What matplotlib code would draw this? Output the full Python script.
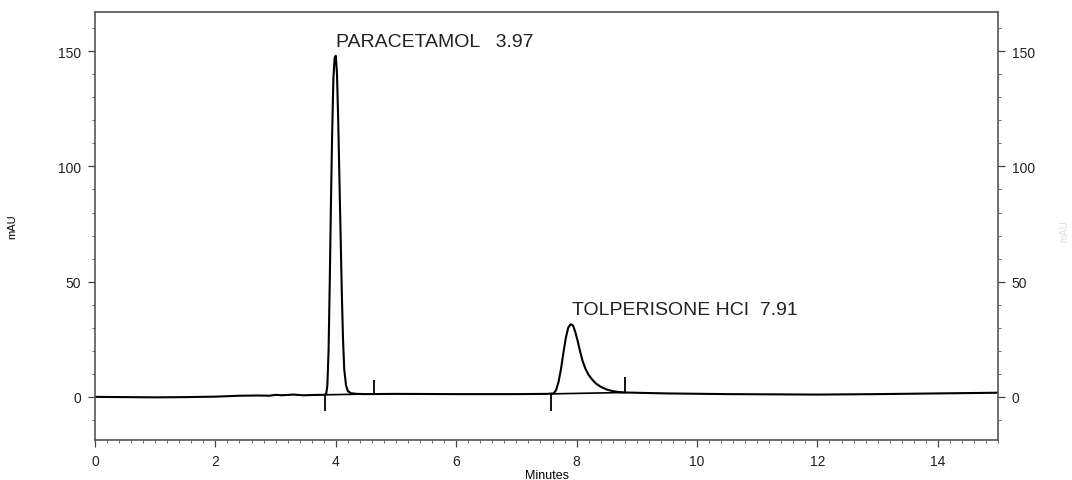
import matplotlib
matplotlib.use("Agg")
import matplotlib.pyplot as plt
from matplotlib.ticker import MultipleLocator

plt.rcParams['font.family'] = ['Liberation Sans', 'DejaVu Sans']

# trace (minutes, mAU)
times = [0.0, 0.5, 1.0, 1.5, 2.0, 2.4, 2.7, 2.9, 3.0, 3.1, 3.3, 3.45, 3.6, 3.8,
         3.84, 3.86, 3.88, 3.90, 3.92, 3.94, 3.96, 3.98, 4.00, 4.02, 4.04, 4.06,
         4.08, 4.10, 4.12, 4.14, 4.17, 4.20, 4.25, 4.35, 4.5, 5.0, 6.0, 7.0, 7.5,
         7.62, 7.66, 7.70, 7.74, 7.78, 7.82, 7.86, 7.90, 7.94, 7.98, 8.02, 8.06,
         8.10, 8.15, 8.20, 8.26, 8.32, 8.40, 8.50, 8.60, 8.70, 8.80, 9.5, 10.5,
         12.0, 13.0, 14.0, 15.0]
mau = [0.0, -0.1, -0.2, -0.1, 0.1, 0.5, 0.6, 0.5, 0.9, 0.7, 1.0, 0.7, 0.8, 0.9,
       1.2, 5.0, 20.0, 50.0, 85.0, 115.0, 138.0, 147.0, 148.0, 140.0, 120.0, 95.0,
       70.0, 45.0, 25.0, 12.0, 5.0, 2.5, 1.6, 1.3, 1.2, 1.3, 1.2, 1.2, 1.3,
       1.5, 3.0, 6.5, 12.0, 19.0, 25.5, 30.0, 31.5, 31.0, 28.0, 24.0, 19.5,
       15.5, 12.0, 9.5, 7.5, 5.8, 4.4, 3.2, 2.5, 2.1, 1.9, 1.5, 1.2,
       1.0, 1.2, 1.5, 1.8]

# integration events (start marks point down, end marks point up)
event_t = [3.82, 4.64, 7.57, 8.80]
event_lo = [-6.0, 1.3, -6.0, 1.9]
event_hi = [0.9, 7.5, 1.3, 8.5]

# integration baselines under the peaks
base_t = [[3.82, 4.64], [7.57, 8.80]]
base_v = [[0.9, 1.3], [1.3, 1.9]]

peak_names = ["PARACETAMOL   3.97", "TOLPERISONE HCI  7.91"]
peak_t = [4.0, 7.93]
label_y = [154, 38]

fig = plt.figure(figsize=(10.72, 4.81), dpi=100)
ax = fig.add_axes([0.0886, 0.0832, 0.8424, 0.8898])

ax.plot(times, mau, color='black', lw=1.5)
for bt, bv in zip(base_t, base_v):
    ax.plot(bt, bv, color='black', lw=1.2)
ax.vlines(event_t, event_lo, event_hi, color='black', lw=1.3)

for name, t, y in zip(peak_names, peak_t, label_y):
    ax.text(t, y, name, ha='left', va='center', fontsize=14, color='#222222')

ax.set_xlim(0, 15)
ax.set_ylim(-18.7, 167)
ax.xaxis.set_major_locator(MultipleLocator(2))
ax.xaxis.set_minor_locator(MultipleLocator(0.2))
ax.yaxis.set_major_locator(MultipleLocator(50))
ax.yaxis.set_minor_locator(MultipleLocator(10))

ax.set_xlabel("Minutes", fontsize=9, labelpad=1)
ax.set_ylabel("mAU", fontsize=8)
ax.yaxis.set_label_coords(-0.086, 0.5)

for s in ax.spines.values():
    s.set_color('#555555')
    s.set_linewidth(1.2)

ax.tick_params(axis='both', which='major', direction='out', length=5,
               labelsize=10, colors='#444444', labelcolor='#222222', width=0.9)
ax.tick_params(axis='both', which='minor', direction='out', length=2.5,
               colors='#666666', width=0.7)
ax.tick_params(axis='x', which='major', pad=5)
ax.tick_params(axis='y', which='major', pad=5)

ax2 = ax.twinx()
ax2.set_ylim(ax.get_ylim())
ax2.yaxis.set_major_locator(MultipleLocator(50))
ax2.yaxis.set_minor_locator(MultipleLocator(10))
ax2.tick_params(axis='y', which='major', direction='out', length=5,
                labelsize=10, colors='#444444', labelcolor='#222222', width=0.9, pad=5)
ax2.tick_params(axis='y', which='minor', direction='out', length=2.5,
                colors='#666666', width=0.7)
for s in ax2.spines.values():
    s.set_visible(False)

fig.text(0.993, 0.52, "mAU", rotation=90, fontsize=7, color='#dddddd',
         ha='center', va='center')

fig.savefig("out.png", dpi=100, facecolor='white')
